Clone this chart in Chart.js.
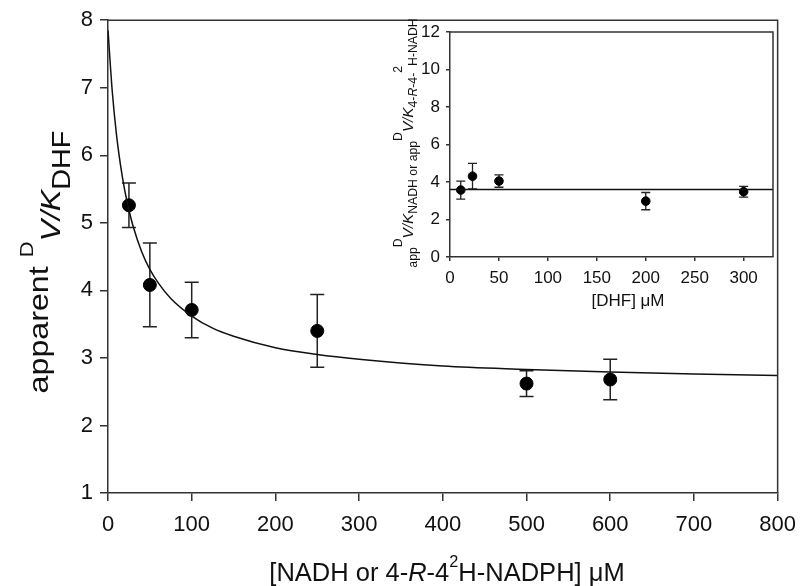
<!DOCTYPE html>
<html>
<head>
<meta charset="utf-8">
<script src="https://cdn.jsdelivr.net/npm/chart.js@4.4.1/dist/chart.umd.min.js"></script>
<style>
  body { margin: 0; background: #fff; }
  #wrap { position: relative; width: 807px; height: 586px; }
  #main { position: absolute; left: 0; top: 0; }
  #inset { position: absolute; left: 362px; top: 10px; }
</style>
</head>
<body>
<div id="wrap">
  <canvas id="main" width="807" height="586"></canvas>
  <canvas id="inset" width="420" height="312"></canvas>
</div>
<script>
// main plot: [NADH or 4-R-4-2H-NADPH] vs apparent D(V/K)DHF
var nadhConc = [25, 50, 100, 250, 500, 600];
var kieDHF = [5.26, 4.08, 3.71, 3.40, 2.62, 2.68];
var kieDHFerr = [0.33, 0.62, 0.41, 0.54, 0.19, 0.30];

// fitted curve
var fitX = [0, 5, 10, 15, 20, 25, 30, 40, 50, 60, 75, 100, 125, 150, 200, 250, 300, 400, 500, 600, 700, 800];
var fitY = [7.85, 6.96, 6.32, 5.85, 5.48, 5.19, 4.95, 4.58, 4.31, 4.11, 3.88, 3.62, 3.44, 3.32, 3.15, 3.05, 2.98, 2.88, 2.83, 2.79, 2.76, 2.74];

var mainXTicks = [0, 100, 200, 300, 400, 500, 600, 700, 800];
var mainYTicks = [1, 2, 3, 4, 5, 6, 7, 8];

// inset: [DHF] vs app D(V/K)NADH
var dhfConc = [11, 23, 50, 200, 300];
var kieNADH = [3.57, 4.31, 4.05, 2.98, 3.48];
var kieNADHerr = [0.48, 0.68, 0.33, 0.46, 0.29];
var meanLineX = [0, 330];
var meanLineY = [3.6, 3.6];

var insetXTicks = [0, 50, 100, 150, 200, 250, 300];
var insetYTicks = [0, 2, 4, 6, 8, 10, 12];

var FONT = '"Liberation Sans", Arial, Helvetica, sans-serif';
Chart.defaults.font.family = FONT;
Chart.defaults.color = '#111';

function pts(xs, ys) {
	return xs.map(function(x, i) { return {x: x, y: ys[i]}; });
}

// text with sub/superscripts, parts = [text, size, dy, italic]
function richText(ctx, parts, x, y, rotate, stretch) {
	ctx.save();
	ctx.translate(x, y);
	if (rotate) ctx.rotate(-Math.PI / 2);
	ctx.scale(stretch || 1, 1);
	ctx.fillStyle = '#111';
	ctx.textBaseline = 'alphabetic';
	ctx.textAlign = 'left';
	var total = 0;
	parts.forEach(function(p) {
		ctx.font = (p[3] ? 'italic ' : '') + p[1] + 'px ' + FONT;
		total += ctx.measureText(p[0]).width;
	});
	var cx = -total / 2;
	parts.forEach(function(p) {
		ctx.font = (p[3] ? 'italic ' : '') + p[1] + 'px ' + FONT;
		ctx.fillText(p[0], cx, p[2]);
		cx += ctx.measureText(p[0]).width;
	});
	ctx.restore();
}

function errorBars(xs, ys, errs, cap, lw) {
	return {
		id: 'errorBars',
		beforeDatasetsDraw: function(chart) {
			var ctx = chart.ctx, sx = chart.scales.x, sy = chart.scales.y;
			ctx.save();
			ctx.strokeStyle = '#222';
			ctx.lineWidth = lw;
			for (var i in xs) {
				var px = sx.getPixelForValue(xs[i]);
				var top = sy.getPixelForValue(ys[i] + errs[i]);
				var bot = sy.getPixelForValue(ys[i] - errs[i]);
				ctx.beginPath();
				ctx.moveTo(px, top); ctx.lineTo(px, bot);
				ctx.moveTo(px - cap, top); ctx.lineTo(px + cap, top);
				ctx.moveTo(px - cap, bot); ctx.lineTo(px + cap, bot);
				ctx.stroke();
			}
			ctx.restore();
		}
	};
}

// top and right edges of the plot box
var frame = {
	id: 'frame',
	afterDraw: function(chart) {
		var a = chart.chartArea, ctx = chart.ctx;
		ctx.save();
		ctx.strokeStyle = '#333';
		ctx.lineWidth = 1.5;
		ctx.beginPath();
		ctx.moveTo(a.left, a.top); ctx.lineTo(a.right, a.top); ctx.lineTo(a.right, a.bottom);
		ctx.stroke();
		ctx.restore();
	}
};

function axis(min, max, ticks, tickLen, pad, size, fitSize, isX) {
	return {
		type: 'linear',
		min: min,
		max: max,
		afterBuildTicks: function(s) { s.ticks = ticks.map(function(v) { return {value: v}; }); },
		afterFit: function(s) { if (isX) s.height = fitSize; else s.width = fitSize; },
		grid: {drawOnChartArea: false, drawTicks: true, tickLength: tickLen, color: '#333', lineWidth: 1.5},
		border: {color: '#333', width: 1.5},
		ticks: {padding: pad, font: {size: size}, color: '#111', maxRotation: 0, autoSkip: false}
	};
}

var mainTitles = {
	id: 'titles',
	afterDraw: function(chart) {
		var ctx = chart.ctx;
		richText(ctx, [
			['apparent ', 28, 0],
			['D', 19, -15],
			['V/K', 28, 12, true],
			['DHF', 25, 22]
		], 48, 262, true, 1.15);
		richText(ctx, [
			['[NADH or 4-', 25, 0],
			['R', 25, 0, true],
			['-4', 25, 0],
			['2', 16, -14],
			['H-NADPH] \u03bcM', 25, 0]
		], 447, 581, false, 1.02);
	}
};

var insetTitles = {
	id: 'titles',
	afterDraw: function(chart) {
		var ctx = chart.ctx;
		richText(ctx, [
			['app', 12, 4],
			['D', 12, -11],
			['V/K', 15, 0, true],
			['NADH', 12, 4],
			[' or app', 12, 4],
			['D', 12, -11],
			['V/K', 15, 0, true],
			['4-', 12, 4],
			['R', 12, 4, true],
			['-4-', 12, 4],
			['2', 12, -11],
			['H-NADH', 12, 4]
		], 51, 133, true, 1.02);
		richText(ctx, [['[DHF] \u03bcM', 17, 0]], 266, 296, false);
	}
};

new Chart(document.getElementById('main'), {
	type: 'scatter',
	data: {
		datasets: [
			{
				data: pts(fitX, fitY),
				showLine: true,
				borderColor: '#111',
				borderWidth: 1.5,
				pointRadius: 0,
				cubicInterpolationMode: 'monotone',
				fill: false
			},
			{
				data: pts(nadhConc, kieDHF),
				pointRadius: 6.5,
				backgroundColor: '#000',
				borderColor: '#000'
			}
		]
	},
	options: {
		responsive: false,
		animation: false,
		layout: {padding: {left: 0, right: 22, top: 20, bottom: 0}},
		plugins: {legend: {display: false}, tooltip: {enabled: false}},
		scales: {
			x: axis(0, 800, mainXTicks, 8, 11, 22, 93, true),
			y: axis(1, 8, mainYTicks, 8, 7, 22, 108, false)
		}
	},
	plugins: [errorBars(nadhConc, kieDHF, kieDHFerr, 7, 1.5), frame, mainTitles]
});

new Chart(document.getElementById('inset'), {
	type: 'scatter',
	data: {
		datasets: [
			{
				data: pts(meanLineX, meanLineY),
				showLine: true,
				borderColor: '#111',
				borderWidth: 1.3,
				pointRadius: 0,
				fill: false
			},
			{
				data: pts(dhfConc, kieNADH),
				pointRadius: 4.3,
				backgroundColor: '#000',
				borderColor: '#000'
			}
		]
	},
	options: {
		responsive: false,
		animation: false,
		layout: {padding: {left: 0, right: 9, top: 22, bottom: 0}},
		plugins: {legend: {display: false}, tooltip: {enabled: false}},
		scales: {
			x: axis(0, 330, insetXTicks, 4, 7, 17, 65, true),
			y: axis(0, 12, insetYTicks, 4, 6, 17, 88, false)
		}
	},
	plugins: [errorBars(dhfConc, kieNADH, kieNADHerr, 4.5, 1.3), frame, insetTitles]
});
</script>
</body>
</html>
